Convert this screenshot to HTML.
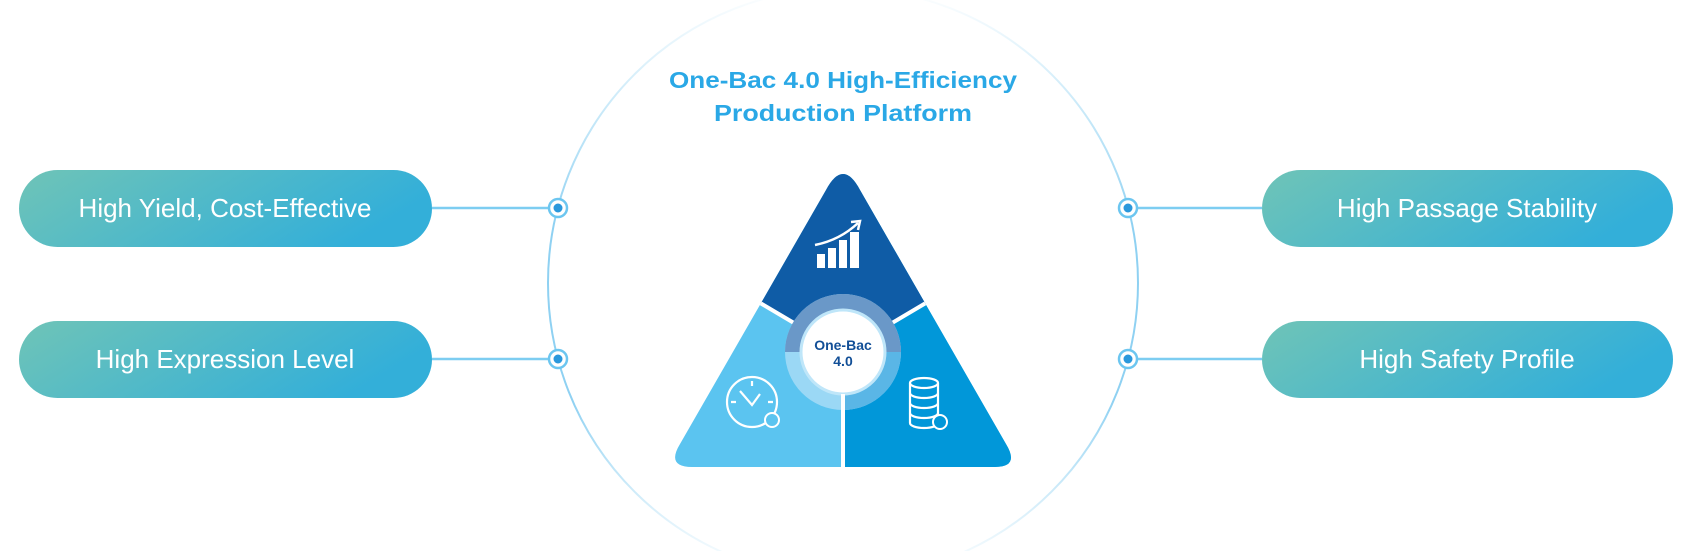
<!DOCTYPE html>
<html><head><meta charset="utf-8"><style>
html,body{margin:0;padding:0;background:#fff;width:1685px;height:551px;overflow:hidden}
</style></head><body>
<svg width="1685" height="551" viewBox="0 0 1685 551" xmlns="http://www.w3.org/2000/svg">
<defs>
<linearGradient id="pill" x1="0" y1="0" x2="1" y2="0.3">
<stop offset="0" stop-color="#6fc4b7"/><stop offset="1" stop-color="#33afd9"/>
</linearGradient>
<linearGradient id="ring" x1="0" y1="0" x2="0" y2="1">
<stop offset="0" stop-color="#a8dcf5" stop-opacity="0"/>
<stop offset="0.2" stop-color="#a8dcf5" stop-opacity="0.6"/>
<stop offset="0.4" stop-color="#8fd1f2"/>
<stop offset="0.7" stop-color="#8fd1f2"/>
<stop offset="1" stop-color="#a8dcf5" stop-opacity="0"/>
</linearGradient>
<clipPath id="tri"><path d="M826,190 Q843,158 860,190 L1006,444 Q1020,467 995,467 L692,467 Q666,467 680,444 Z"/></clipPath>
</defs>

<circle cx="843" cy="283" r="295" fill="none" stroke="url(#ring)" stroke-width="2"/>

<g fill="url(#pill)">
<rect x="19" y="170" width="413" height="77" rx="38.5"/>
<rect x="19" y="321" width="413" height="77" rx="38.5"/>
<rect x="1262" y="170" width="411" height="77" rx="38.5"/>
<rect x="1262" y="321" width="411" height="77" rx="38.5"/>
</g>
<g font-family="Liberation Sans, sans-serif" font-size="26" fill="#fff" text-anchor="middle">
<text x="225" y="217">High Yield, Cost-Effective</text>
<text x="225" y="368">High Expression Level</text>
<text x="1467" y="217">High Passage Stability</text>
<text x="1467" y="368">High Safety Profile</text>
</g>
<g stroke="#7dcdf1" stroke-width="2.5">
<line x1="432" y1="208" x2="550" y2="208"/><line x1="432" y1="359" x2="550" y2="359"/>
<line x1="1136" y1="208" x2="1262" y2="208"/><line x1="1136" y1="359" x2="1262" y2="359"/>
</g>
<g>
<circle cx="558" cy="208" r="9" fill="#fff" stroke="#6cc6f0" stroke-width="2.5"/><circle cx="558" cy="208" r="4.5" fill="#2a98dc"/>
<circle cx="558" cy="359" r="9" fill="#fff" stroke="#6cc6f0" stroke-width="2.5"/><circle cx="558" cy="359" r="4.5" fill="#2a98dc"/>
<circle cx="1128" cy="208" r="9" fill="#fff" stroke="#6cc6f0" stroke-width="2.5"/><circle cx="1128" cy="208" r="4.5" fill="#2a98dc"/>
<circle cx="1128" cy="359" r="9" fill="#fff" stroke="#6cc6f0" stroke-width="2.5"/><circle cx="1128" cy="359" r="4.5" fill="#2a98dc"/>
</g>

<g font-family="Liberation Sans, sans-serif" font-weight="bold" font-size="23" fill="#2aa8e6" text-anchor="middle">
<text x="843" y="88" textLength="348" lengthAdjust="spacingAndGlyphs">One-Bac 4.0 High-Efficiency</text>
<text x="843" y="121" textLength="258" lengthAdjust="spacingAndGlyphs">Production Platform</text>
</g>

<g clip-path="url(#tri)">
<rect x="660" y="150" width="370" height="330" fill="#5bc4f0"/>
<rect x="843" y="150" width="190" height="330" fill="#0197d9"/>
<polygon points="650,150 1040,150 1040,292 935,298 843,352 752,298 650,292" fill="#0f5ca6"/>
<polyline points="745,294 843,352 941,294" fill="none" stroke="#fff" stroke-width="4"/>
<line x1="843" y1="356" x2="843" y2="480" stroke="#fff" stroke-width="4"/>
</g>
<circle cx="843" cy="352" r="58" fill="#9bd8f5"/>
<path d="M785,352 A58,58 0 0 1 901,352 Z" fill="#6a98c8"/>
<path d="M843,352 L901,352 A58,58 0 0 1 843,410 Z" fill="#5ab6e6"/>
<circle cx="843" cy="352" r="42" fill="#fff" stroke="#bfe6f9" stroke-width="3"/>
<line x1="843" y1="394" x2="843" y2="410" stroke="#fff" stroke-width="4"/>
<g font-family="Liberation Sans, sans-serif" font-weight="bold" font-size="14" fill="#124f97" text-anchor="middle">
<text x="843" y="350">One-Bac</text><text x="843" y="366">4.0</text>
</g>

<g fill="#fff">
<rect x="817" y="254" width="8" height="14"/><rect x="828" y="248" width="8" height="20"/>
<rect x="839" y="240" width="8" height="28"/><rect x="850" y="232" width="9" height="36"/>
</g>
<path d="M815,245 Q840,240 858,223" fill="none" stroke="#fff" stroke-width="2.5"/>
<path d="M851,222 L860,221 L858,230" fill="none" stroke="#fff" stroke-width="2.5"/>

<g stroke="#fff" fill="none" stroke-width="2.2">
<circle cx="752" cy="402" r="25"/>
<path d="M752,381 v5 M731,402 h5 M768,402 h5"/>
<path d="M740,391 L752,405 L760,394"/>
</g>
<circle cx="772" cy="420" r="7" fill="#5bc4f0" stroke="#fff" stroke-width="2"/>

<g stroke="#fff" fill="none" stroke-width="2.2">
<ellipse cx="924" cy="383" rx="14" ry="5"/>
<path d="M910,383 v40 a14,5 0 0 0 28,0 v-40"/>
<path d="M910,393 a14,5 0 0 0 28,0 M910,403 a14,5 0 0 0 28,0 M910,413 a14,5 0 0 0 28,0"/>
</g>
<circle cx="940" cy="422" r="7" fill="#0197d9" stroke="#fff" stroke-width="2"/>
</svg>
</body></html>
